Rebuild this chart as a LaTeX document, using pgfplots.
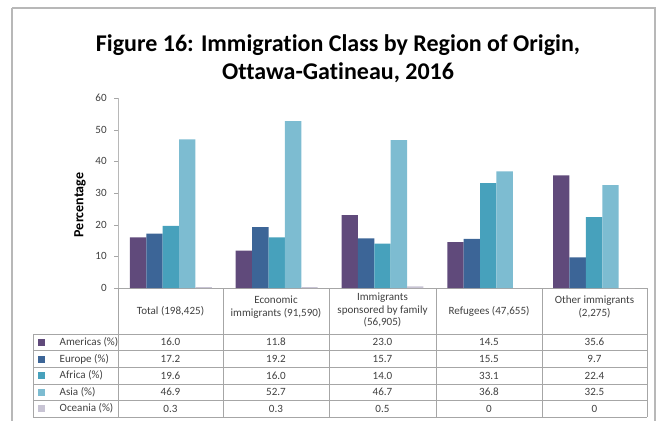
\documentclass[border=0pt]{standalone}
\usepackage{pgfplots}
\pgfplotsset{compat=1.18}
\usepackage{fontspec}
\setmainfont{Carlito}[Ligatures={NoCommon}]
\definecolor{cAm}{HTML}{604A7B}
\definecolor{cEu}{HTML}{3C6597}
\definecolor{cAf}{HTML}{47A1BC}
\definecolor{cAs}{HTML}{7DBCD1}
\definecolor{cOc}{HTML}{C8C4D4}
\definecolor{lin}{HTML}{A6A6A6}
\definecolor{txt}{HTML}{404040}
\begin{document}
\begin{tikzpicture}
\begin{scope}[x=0.75pt,y=-0.75pt]
\useasboundingbox (0,0) rectangle (665,421);
\draw[color=lin!80,line width=1.3pt] (12,8) -- (12,440) (12,8) -- (655,8) -- (655,440);
\node[font=\bfseries\fontsize{18}{21}\selectfont,align=center,text=black] at (338,59) {Figure 16: Immigration Class by Region of Origin,\\Ottawa-Gatineau, 2016};
\node[rotate=90,font=\bfseries\fontsize{10.5}{13}\selectfont,text=black] at (80,205) {Percentage};
\end{scope}
\begin{axis}[
  at={(88.5pt,-216pt)}, anchor=south west,
  scale only axis, width=396.75pt, height=142.5pt,
  ymin=0, ymax=60, ytick={0,10,...,60},
  xmin=-0.5, xmax=4.5, xtick=\empty,
  axis y line*=left, axis x line*=bottom,
  axis line style={draw=lin, line width=0.75pt},
  y axis line style={draw=lin!80},
  major tick length=3pt,
  ytick style={draw=lin},
  tick align=outside,
  /pgf/number format/assume math mode=true,
  yticklabel style={font=\fontsize{8.3}{10}\selectfont, text=txt, xshift=-2pt},
  ybar=0pt, bar width=0.155,
  every axis plot/.append style={draw=none},
]
\addplot[fill=cAm] coordinates {(0,16.0) (1,11.8) (2,23.0) (3,14.5) (4,35.6)};
\addplot[fill=cEu] coordinates {(0,17.2) (1,19.2) (2,15.7) (3,15.5) (4,9.7)};
\addplot[fill=cAf] coordinates {(0,19.6) (1,16.0) (2,14.0) (3,33.1) (4,22.4)};
\addplot[fill=cAs] coordinates {(0,46.9) (1,52.7) (2,46.7) (3,36.8) (4,32.5)};
\addplot[fill=cOc] coordinates {(0,0.3) (1,0.3) (2,0.5) (3,0) (4,0)};
\end{axis}
\begin{scope}[x=0.75pt,y=-0.75pt]
\draw[lin, line width=0.75pt]
  (118,288) -- (118,417) (223,288) -- (223,417) (329,288) -- (329,417)
  (436,288) -- (436,417) (542,288) -- (542,417) (647,288) -- (647,417)
  (33,334) -- (33,417);
\foreach \yy in {334,350.5,367,384,400.5,417} \draw[lin, line width=0.75pt] (33,\yy) -- (647,\yy);
\tikzset{hd/.style={font=\fontsize{8.3}{9.4}\selectfont, text=txt, align=center}}
\node[hd] at (170.5,311) {Total (198,425)};
\node[hd] at (276,307) {Economic\\immigrants (91,590)};
\node[hd] at (382.5,310) {Immigrants\\sponsored by family\\(56,905)};
\node[hd] at (489,311) {Refugees (47,655)};
\node[hd] at (594.5,307) {Other immigrants\\(2,275)};
\tikzset{cl/.style={font=\fontsize{8.3}{10}\selectfont, text=txt}}
\foreach \c/\n/\yy/\a/\b/\cc/\d/\e in {
  cAm/Americas (\%)/342/16.0/11.8/23.0/14.5/35.6,
  cEu/Europe (\%)/359/17.2/19.2/15.7/15.5/9.7,
  cAf/Africa (\%)/375.5/19.6/16.0/14.0/33.1/22.4,
  cAs/Asia (\%)/392/46.9/52.7/46.7/36.8/32.5,
  cOc/Oceania (\%)/408.5/0.3/0.3/0.5/0/0}{
  \fill[\c] (38,\yy-3.5) rectangle (45,\yy+3.5);
  \node[cl,anchor=west] at (55,\yy) {\n};
  \node[cl] at (170.5,\yy) {\a};
  \node[cl] at (276,\yy) {\b};
  \node[cl] at (382.5,\yy) {\cc};
  \node[cl] at (489,\yy) {\d};
  \node[cl] at (594.5,\yy) {\e};
}
\end{scope}
\end{tikzpicture}
\end{document}
